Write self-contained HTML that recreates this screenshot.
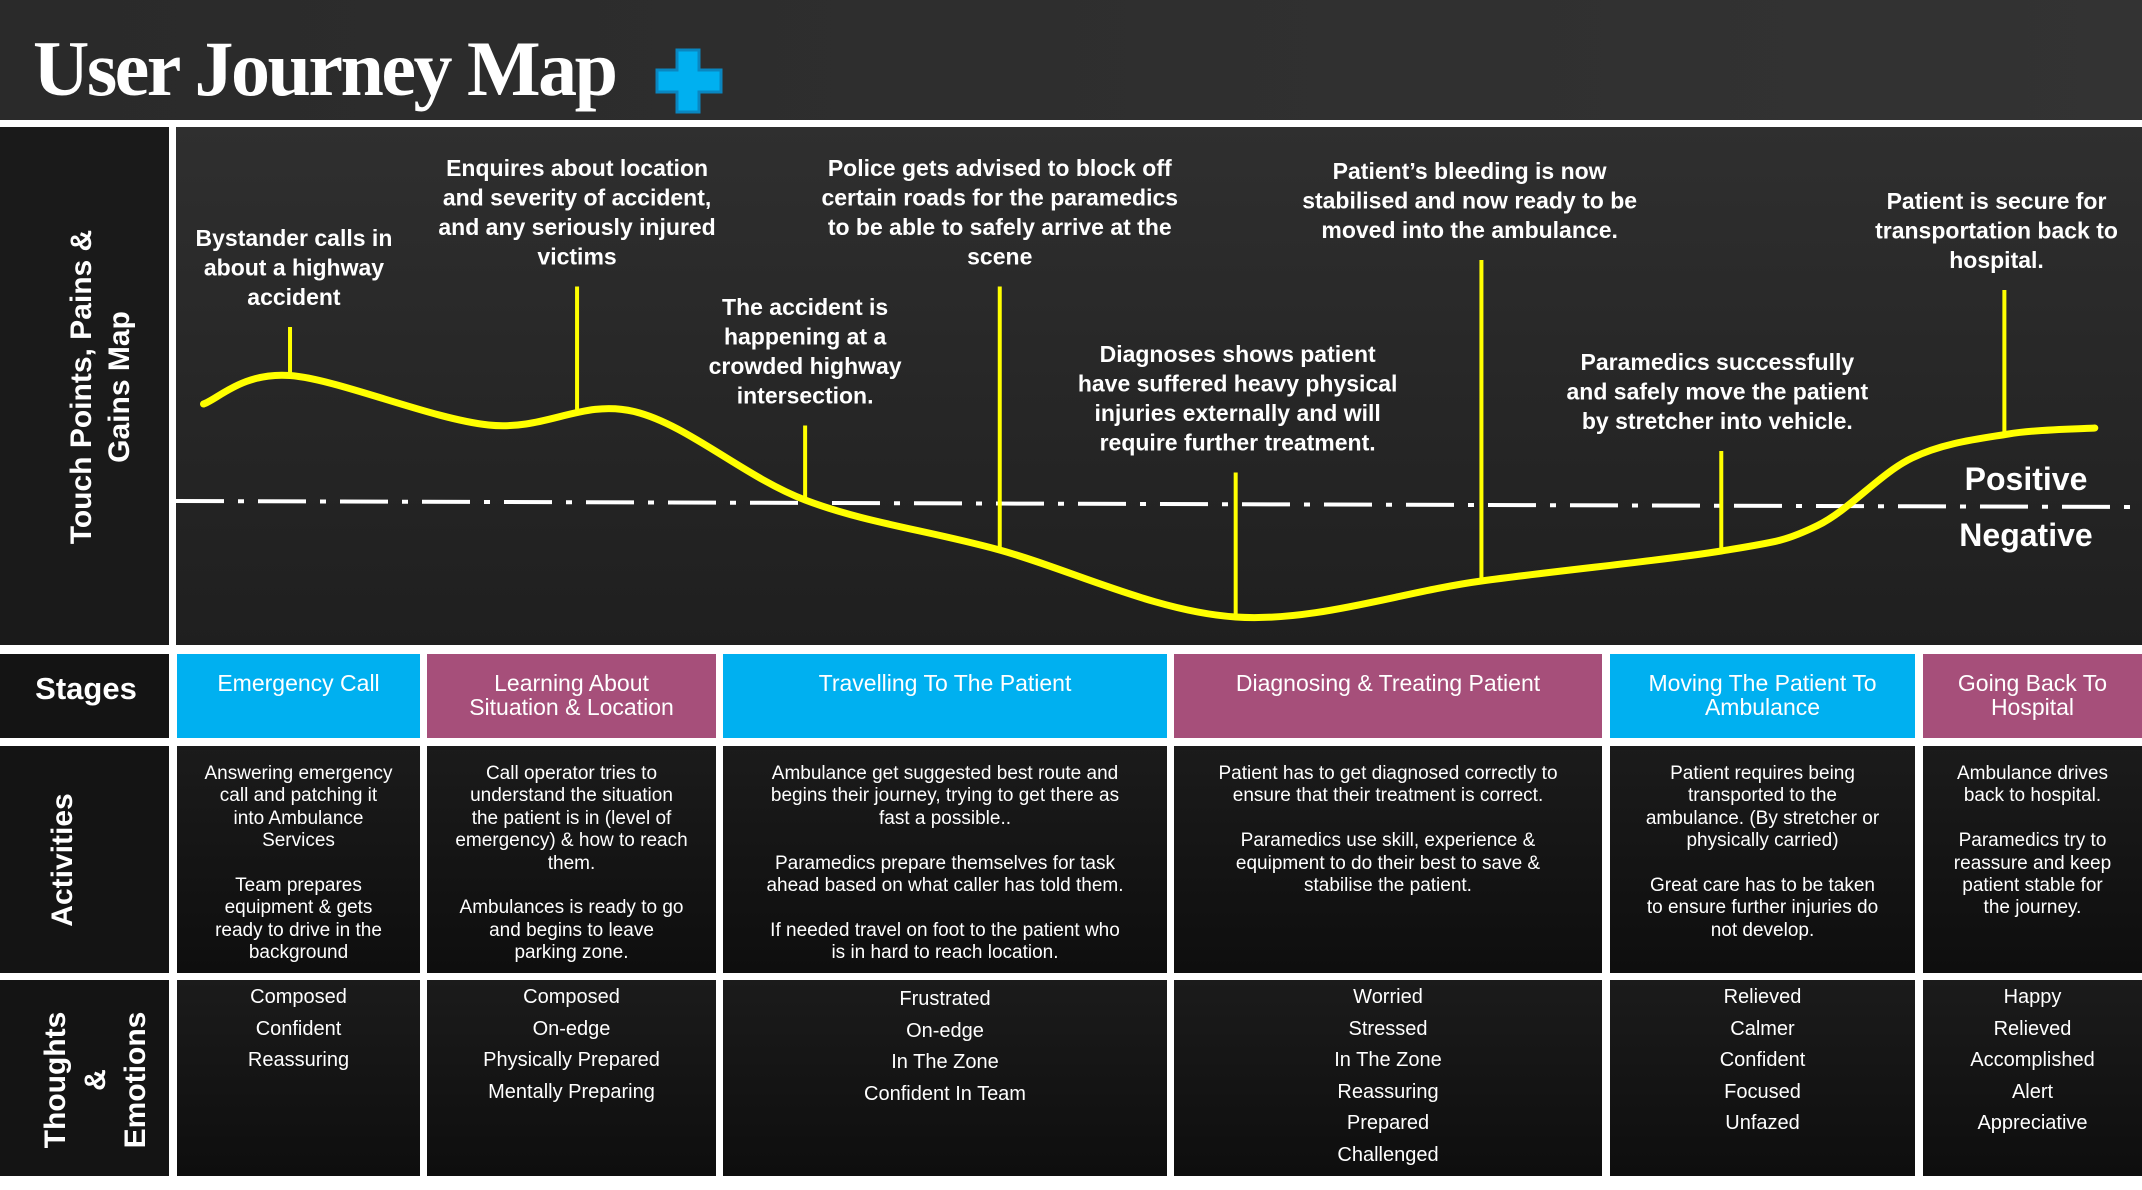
<!DOCTYPE html>
<html><head><meta charset="utf-8"><style>
*{margin:0;padding:0;box-sizing:border-box}
body{width:2142px;height:1176px;background:#fff;position:relative;overflow:hidden;font-family:"Liberation Sans",sans-serif;color:#fff}
.abs{position:absolute}
.cell{position:absolute;background:linear-gradient(180deg,#1b1b1b,#0e0e0e);text-align:center}
.stage{position:absolute;text-align:center;font-size:23px;line-height:24px;padding-top:17px;color:#fff}
.blue{background:#00b0f0}.pink{background:#a64f7a}
.act{font-size:19px;line-height:22.4px;padding-top:17px}
.th{font-size:20px;line-height:31.5px;padding-top:2px}
.rot{position:absolute;transform:rotate(-90deg);transform-origin:center;font-weight:bold;text-align:center;white-space:nowrap}
</style></head><body>
<div class="abs" style="left:0;top:0;width:2142px;height:120px;background:linear-gradient(90deg,#2a2a2a,#333)"></div>
<div class="abs" style="left:33px;top:24px;font-family:'Liberation Serif',serif;font-weight:bold;font-size:78px;line-height:90px;letter-spacing:-2.5px">User Journey Map</div>
<svg class="abs" style="left:655px;top:48px" width="68" height="66"><path d="M22 2h22v20h22v22h-22v20h-22v-20h-20v-22h20z" fill="#00b0f0" stroke="#0a86c0" stroke-width="3"/></svg>
<div class="abs" style="left:0;top:127px;width:169px;height:518px;background:#1a1a1a"></div>
<div class="abs" style="left:176px;top:127px;width:1966px;height:518px;background:linear-gradient(180deg,#2f2f2f,#1f1f1f)"></div>
<div class="rot" style="left:-82px;top:352px;width:360px;height:70px;font-size:30px;line-height:38px">Touch Points, Pains &amp;<br>Gains Map</div>
<svg id="chart" class="abs" style="left:0;top:0" width="2142" height="650"></svg>

<div class="abs" style="left:0;top:654px;width:169px;height:84px;background:#141414"></div>
<div class="abs" style="left:0;top:671px;width:172px;text-align:center;font-weight:bold;font-size:31px">Stages</div>
<div class="abs" style="left:0;top:746px;width:169px;height:227px;background:#141414"></div>
<div class="rot" style="left:-34px;top:840px;width:200px;height:40px;font-size:30px">Activities</div>
<div class="abs" style="left:0;top:980px;width:169px;height:196px;background:#141414"></div>
<div class="rot" style="left:-14px;top:1020px;width:220px;height:120px;font-size:30px;line-height:40px">Thoughts<br>&amp;<br>Emotions</div>

<div class="stage blue" style="left:177px;top:654px;width:243px;height:84px">Emergency Call</div>
<div class="stage pink" style="left:427px;top:654px;width:289px;height:84px">Learning About<br>Situation &amp; Location</div>
<div class="stage blue" style="left:723px;top:654px;width:444px;height:84px">Travelling To The Patient</div>
<div class="stage pink" style="left:1174px;top:654px;width:428px;height:84px">Diagnosing &amp; Treating Patient</div>
<div class="stage blue" style="left:1610px;top:654px;width:305px;height:84px">Moving The Patient To<br>Ambulance</div>
<div class="stage pink" style="left:1923px;top:654px;width:219px;height:84px">Going Back To<br>Hospital</div>

<div class="cell act" style="left:177px;top:746px;width:243px;height:227px">Answering emergency<br>call and patching it<br>into Ambulance<br>Services<br><br>Team prepares<br>equipment &amp; gets<br>ready to drive in the<br>background</div>
<div class="cell act" style="left:427px;top:746px;width:289px;height:227px">Call operator tries to<br>understand the situation<br>the patient is in (level of<br>emergency) &amp; how to reach<br>them.<br><br>Ambulances is ready to go<br>and begins to leave<br>parking zone.</div>
<div class="cell act" style="left:723px;top:746px;width:444px;height:227px">Ambulance get suggested best route and<br>begins their journey, trying to get there as<br>fast a possible..<br><br>Paramedics prepare themselves for task<br>ahead based on what caller has told them.<br><br>If needed travel on foot to the patient who<br>is in hard to reach location.</div>
<div class="cell act" style="left:1174px;top:746px;width:428px;height:227px">Patient has to get diagnosed correctly to<br>ensure that their treatment is correct.<br><br>Paramedics use skill, experience &amp;<br>equipment to do their best to save &amp;<br>stabilise the patient.</div>
<div class="cell act" style="left:1610px;top:746px;width:305px;height:227px">Patient requires being<br>transported to the<br>ambulance. (By stretcher or<br>physically carried)<br><br>Great care has to be taken<br>to ensure further injuries do<br>not develop.</div>
<div class="cell act" style="left:1923px;top:746px;width:219px;height:227px">Ambulance drives<br>back to hospital.<br><br>Paramedics try to<br>reassure and keep<br>patient stable for<br>the journey.</div>

<div class="cell th" style="left:177px;top:980px;width:243px;height:196px">Composed<br>Confident<br>Reassuring</div>
<div class="cell th" style="left:427px;top:980px;width:289px;height:196px">Composed<br>On-edge<br>Physically Prepared<br>Mentally Preparing</div>
<div class="cell th" style="left:723px;top:980px;width:444px;height:196px;padding-top:4px">Frustrated<br>On-edge<br>In The Zone<br>Confident In Team</div>
<div class="cell th" style="left:1174px;top:980px;width:428px;height:196px">Worried<br>Stressed<br>In The Zone<br>Reassuring<br>Prepared<br>Challenged</div>
<div class="cell th" style="left:1610px;top:980px;width:305px;height:196px">Relieved<br>Calmer<br>Confident<br>Focused<br>Unfazed</div>
<div class="cell th" style="left:1923px;top:980px;width:219px;height:196px">Happy<br>Relieved<br>Accomplished<br>Alert<br>Appreciative</div>

<script>
const curveX = [1.4, 5.8, 15.9, 23.3, 32.0, 41.8, 53.9, 66.4, 78.6, 83.5, 88.3, 93.2, 97.6];
const curveV = [0.66, 0.85, 0.52, 0.61, 0.02, -0.31, -0.76, -0.52, -0.32, -0.15, 0.30, 0.46, 0.50];
const touchX = [5.8, 20.4, 32.0, 41.9, 53.9, 66.4, 78.6, 93.0];
const touchV = [0.85, 0.59, 0.02, -0.31, -0.76, -0.52, -0.32, 0.46];
const labelX = [6.0, 20.4, 32.0, 41.9, 54.0, 65.8, 78.4, 92.6];
const touchLabels = [
 ["Bystander calls in","about a highway","accident"],
 ["Enquires about location","and severity of accident,","and any seriously injured","victims"],
 ["The accident is","happening at a","crowded highway","intersection."],
 ["Police gets advised to block off","certain roads for the paramedics","to be able to safely arrive at the","scene"],
 ["Diagnoses shows patient","have suffered heavy physical","injuries externally and will","require further treatment."],
 ["Patient\u2019s bleeding is now","stabilised and now ready to be","moved into the ambulance."],
 ["Paramedics successfully","and safely move the patient","by stretcher into vehicle."],
 ["Patient is secure for","transportation back to","hospital."]
];
const labelTop = [238, 168, 307, 168, 354, 171, 362, 201];
const NS = "http://www.w3.org/2000/svg";
const svg = document.getElementById('chart');
const xs = d => 176 + d * 19.66;
const ys = v => 503 - v * 150;
function mk(tag, attrs){const e=document.createElementNS(NS,tag);for(const k in attrs)e.setAttribute(k,attrs[k]);svg.appendChild(e);return e;}
const zl = mk('line',{x1:176,y1:501,x2:2142,y2:507,stroke:'#fff','stroke-width':4,'stroke-dasharray':'48 14 6 14'});


const P = curveX.map((x,i)=>[xs(x), ys(curveV[i])]);
let d = `M${P[0][0]},${P[0][1]}`;
for(let i=0;i<P.length-1;i++){
 const p0=P[Math.max(0,i-1)],p1=P[i],p2=P[i+1],p3=P[Math.min(P.length-1,i+2)];
 d+=` C${p1[0]+(p2[0]-p0[0])/6},${p1[1]+(p2[1]-p0[1])/6} ${p2[0]-(p3[0]-p1[0])/6},${p2[1]-(p3[1]-p1[1])/6} ${p2[0]},${p2[1]}`;
}
const curve = mk('path',{d:d,fill:'none',stroke:'#ffff00','stroke-width':7,'stroke-linecap':'round'});


touchX.forEach((x,i)=>{
 const lines = touchLabels[i];
 const top = labelTop[i] + (lines.length-1)*29.5 + 30;
 const st = mk('line',{x1:xs(x),y1:top,x2:xs(x),y2:ys(touchV[i]),stroke:'#ffff00','stroke-width':4});
 
 
 const t = mk('text',{x:xs(labelX[i]),'text-anchor':'middle',fill:'#fff','font-size':23,'font-weight':'bold','font-family':'Liberation Sans, sans-serif'});
 
 
 lines.forEach((l,j)=>{const ts=document.createElementNS(NS,'tspan');ts.setAttribute('x',xs(labelX[i]));ts.setAttribute('y',labelTop[i]+8+j*29.5);ts.textContent=l;t.appendChild(ts);});
});
const pos = mk('text',{x:2026,y:490,'text-anchor':'middle',fill:'#fff','font-size':32,'font-weight':'bold','font-family':'Liberation Sans, sans-serif'});
pos.textContent='Positive';


const neg = mk('text',{x:2026,y:546,'text-anchor':'middle',fill:'#fff','font-size':32,'font-weight':'bold','font-family':'Liberation Sans, sans-serif'});
neg.textContent='Negative';


</script>
</body></html>
